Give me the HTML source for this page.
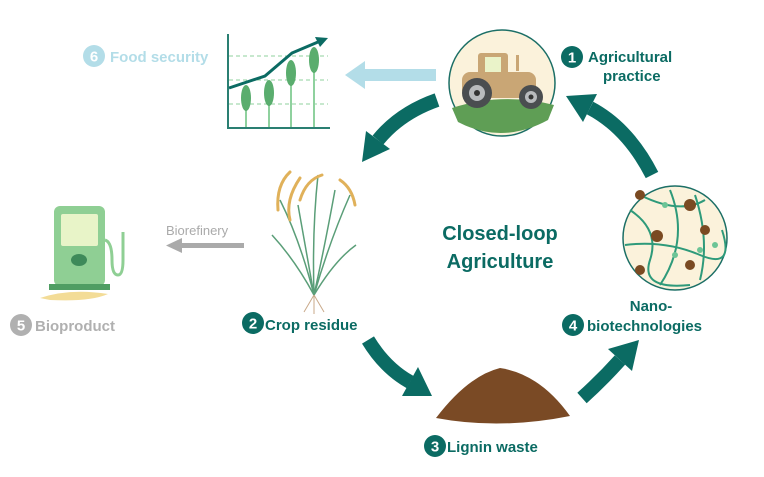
<!DOCTYPE html>
<html><head><meta charset="utf-8"><style>
body{margin:0;background:#fff;width:764px;height:472px;overflow:hidden;font-family:"Liberation Sans",sans-serif}
</style></head><body>
<svg width="764" height="472" viewBox="0 0 764 472" xmlns="http://www.w3.org/2000/svg" font-family="Liberation Sans, sans-serif" font-weight="bold">
<circle cx="94" cy="56" r="11" fill="#b3dde8"/>
<text x="94" y="61.5" font-size="15" fill="#fff" text-anchor="middle">6</text>
<text x="110" y="62" font-size="15" fill="#b3dde8">Food security</text>
<g stroke="#8fd19e" stroke-width="1" stroke-dasharray="4,3"><line x1="229" y1="56" x2="328" y2="56"/><line x1="229" y1="80" x2="328" y2="80"/><line x1="229" y1="104" x2="328" y2="104"/></g>
<path d="M228 34V128H330" fill="none" stroke="#2a7f72" stroke-width="2"/>
<g stroke="#8fd19e" stroke-width="2"><line x1="246" y1="100" x2="246" y2="127"/><line x1="269" y1="92" x2="269" y2="127"/><line x1="291" y1="76" x2="291" y2="127"/><line x1="314" y1="64" x2="314" y2="127"/></g>
<g fill="#5aad6e"><ellipse cx="246" cy="98" rx="5" ry="13"/><ellipse cx="269" cy="93" rx="5" ry="13"/><ellipse cx="291" cy="73" rx="5" ry="13"/><ellipse cx="314" cy="60" rx="5" ry="13"/></g>
<path d="M229 88L265 76L292 53L318 42" fill="none" stroke="#0b6b63" stroke-width="3"/>
<polygon points="328,38 315,37 320,47" fill="#0b6b63"/>
<rect x="362" y="69" width="74" height="12" fill="#b3dde8"/>
<polygon points="345,75 365,61 365,89" fill="#b3dde8"/>
<circle cx="502" cy="83" r="53" fill="#fbf2db" stroke="#1c6f66" stroke-width="1.5"/>
<path d="M452 108 Q502 92 554 105 L548 120 Q502 145 458 122Z" fill="#5f9e55"/>
<rect x="478" y="53" width="30" height="28" rx="3" fill="#c9a675"/>
<rect x="485" y="57" width="16" height="16" fill="#eaf3c9"/>
<rect x="462" y="72" width="74" height="26" rx="8" fill="#c9a675"/>
<rect x="516" y="55" width="3" height="16" fill="#c9a675"/>
<circle cx="477" cy="93" r="15" fill="#4a4d50"/><circle cx="477" cy="93" r="8" fill="#b8babd"/><circle cx="477" cy="93" r="3" fill="#333"/>
<circle cx="531" cy="97" r="12" fill="#4a4d50"/><circle cx="531" cy="97" r="6" fill="#b8babd"/><circle cx="531" cy="97" r="2.5" fill="#333"/>
<circle cx="572" cy="57" r="11" fill="#0b6b63"/>
<text x="572" y="62.5" font-size="15" fill="#fff" text-anchor="middle">1</text>
<text x="588" y="62" font-size="15" fill="#0b6b63">Agricultural</text>
<text x="603" y="81" font-size="15" fill="#0b6b63">practice</text>
<g fill="none" stroke="#0b6b63" stroke-width="14">
<path d="M437 100 Q400 113 378 140"/>
<path d="M652 175 Q628 128 590 108"/>
<path d="M368 340 Q385 368 410 382"/>
<path d="M582 398 Q602 380 620 360"/>
</g>
<g fill="#0b6b63">
<polygon points="362,162 366,131 390,149"/>
<polygon points="566,96 597,94 583,122"/>
<polygon points="432,396 402,396 418,367"/>
<polygon points="639,340 632,371 608,349"/>
</g>
<circle cx="675" cy="238" r="52" fill="#fbf2db" stroke="#1c6f66" stroke-width="1.5"/>
<g fill="none" stroke="#2e9a7a" stroke-width="2">
<path d="M630 210 Q660 230 650 260 T690 285"/><path d="M640 195 Q680 215 705 200"/><path d="M625 245 Q665 240 700 255 T722 230"/><path d="M670 190 Q690 240 660 285"/><path d="M695 195 Q710 240 700 280"/>
</g>
<g fill="#7a4a22"><circle cx="640" cy="195" r="5"/><circle cx="690" cy="205" r="6"/><circle cx="657" cy="236" r="6"/><circle cx="705" cy="230" r="5"/><circle cx="640" cy="270" r="5"/><circle cx="690" cy="265" r="5"/></g>
<g fill="#6cc496"><circle cx="665" cy="205" r="3"/><circle cx="700" cy="250" r="3"/><circle cx="675" cy="255" r="3"/><circle cx="715" cy="245" r="3"/></g>
<text x="651" y="311" font-size="15" fill="#0b6b63" text-anchor="middle">Nano-</text>
<circle cx="573" cy="325" r="11" fill="#0b6b63"/>
<text x="573" y="330.5" font-size="15" fill="#fff" text-anchor="middle">4</text>
<text x="587" y="331" font-size="15" fill="#0b6b63">biotechnologies</text>
<text x="500" y="240" font-size="20" fill="#0b6b63" text-anchor="middle">Closed-loop</text>
<text x="500" y="268" font-size="20" fill="#0b6b63" text-anchor="middle">Agriculture</text>
<g stroke="#5a9e78" stroke-width="1.5" fill="none">
<path d="M314 295 Q300 240 280 200"/><path d="M314 295 Q312 230 318 175"/><path d="M314 295 Q330 240 350 195"/><path d="M314 295 Q295 260 272 235"/><path d="M314 295 Q335 260 356 245"/><path d="M314 295 Q306 250 298 205"/><path d="M314 295 Q325 245 335 190"/>
</g>
<g stroke="#e0b15a" stroke-width="3" fill="none" stroke-linecap="round">
<path d="M290 172 Q276 185 278 210"/><path d="M322 175 Q306 180 300 200"/><path d="M340 180 Q352 188 355 205"/><path d="M300 178 Q285 200 290 220"/>
</g>
<g stroke="#c9a98a" stroke-width="1" fill="none"><path d="M314 295 L304 312"/><path d="M314 295 L324 312"/><path d="M314 295 L314 314"/></g>
<circle cx="253" cy="323" r="11" fill="#0b6b63"/>
<text x="253" y="328.5" font-size="15" fill="#fff" text-anchor="middle">2</text>
<text x="265" y="330" font-size="15" fill="#0b6b63">Crop residue</text>
<path d="M436 418 Q468 376 500 368 Q540 374 570 416 Q500 430 436 418Z" fill="#7a4a25"/>
<circle cx="435" cy="446" r="11" fill="#0b6b63"/>
<text x="435" y="451.5" font-size="15" fill="#fff" text-anchor="middle">3</text>
<text x="447" y="452" font-size="15" fill="#0b6b63">Lignin waste</text>
<text x="166" y="235" font-size="13" font-weight="normal" fill="#aaa">Biorefinery</text>
<rect x="180" y="243" width="64" height="5" fill="#aaa"/>
<polygon points="166,245.5 182,238 182,253" fill="#aaa"/>
<path d="M40 298 Q70 288 108 294 Q90 302 50 300Z" fill="#f3dc97"/>
<rect x="54" y="206" width="51" height="80" rx="6" fill="#8fcf94"/>
<rect x="61" y="214" width="37" height="32" rx="2" fill="#e8f4c8"/>
<rect x="49" y="284" width="61" height="6" fill="#4f9e63"/>
<ellipse cx="79" cy="260" rx="8" ry="6" fill="#3e8a5a"/>
<path d="M105 240 Q112 242 112 260 Q112 275 118 275 Q123 275 123 260 V232" fill="none" stroke="#8fcf94" stroke-width="3"/>
<circle cx="21" cy="325" r="11" fill="#b0b0b0"/>
<text x="21" y="330.5" font-size="15" fill="#fff" text-anchor="middle">5</text>
<text x="35" y="331" font-size="15" fill="#b0b0b0">Bioproduct</text>
</svg>
</body></html>
